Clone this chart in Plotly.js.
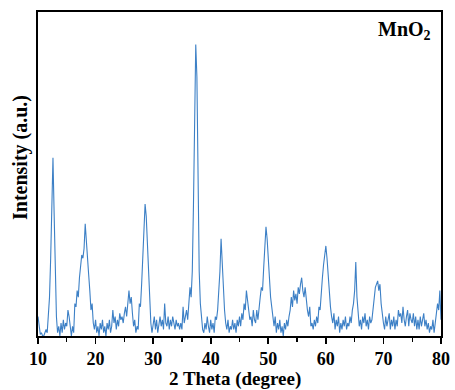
<!DOCTYPE html>
<html>
<head>
<meta charset="utf-8">
<script src="https://cdn.plot.ly/plotly-3.0.1.min.js"></script>
<style>html,body{margin:0;padding:0;background:#fff;}#chart{width:455px;height:390px;}</style>
</head>
<body>
<div id="chart"></div>
<script>
// 2 Theta from 10 to 80 in steps of 0.2 degree
const thetaStart = 10;
const thetaStep = 0.2;
// Intensity (a.u.), 5 values per degree
const intensity = [
  6, 2, 0.5, 1, 0,        // 10
  0, 1, 2, 1, 8,          // 11
  12, 24, 40, 55, 38,     // 12
  16, 6, 1, 3, 0,         // 13
  4, 1, 5, 2, 4,          // 14
  3, 8, 6, 2, 0,          // 15
  3, 1, 10, 9, 14,        // 16
  12, 18, 22, 25, 24,     // 17
  27, 34.6, 28, 25, 19,   // 18
  14, 8, 10, 4, 2,        // 19
  5, 1, 3, 0, 4,          // 20
  2, 5, 1, 3, 0,          // 21
  4, 2, 5, 1, 3,          // 22
  8, 4, 6, 2, 5,          // 23
  3, 7, 5, 6, 4,          // 24
  7, 9, 6, 10, 14,        // 25
  10, 12, 7, 3, 5,        // 26
  1, 3, 2, 10, 9,         // 27
  16, 25, 33, 40.7, 37,   // 28
  28, 18, 9, 4, 1,        // 29
  3, 6, 2, 5, 1,          // 30
  4, 6, 3, 5, 2,          // 31
  10, 4, 3, 6, 2,         // 32
  5, 3, 6, 4, 2,          // 33
  5, 3, 4, 2, 4,          // 34
  2, 9, 4, 6, 8,          // 35
  5, 9, 15, 12, 20,       // 36
  40, 70, 90, 80, 50,     // 37
  20, 10, 5, 2, 1,        // 38
  4, 2, 6, 3, 1,          // 39
  5, 2, 4, 1, 6,          // 40
  5, 8, 14, 20, 30,       // 41
  22, 14, 8, 4, 2,        // 42
  5, 1, 3, 2, 5,          // 43
  2, 4, 1, 5, 3,          // 44
  6, 3, 7, 5, 10,         // 45
  8, 14, 11, 9, 5,        // 46
  6, 3, 8, 5, 4,          // 47
  8, 5, 10, 12, 15,       // 48
  14, 21, 27, 33.7, 30,   // 49
  24, 16, 12, 9, 5,       // 50
  3, 6, 1, 4, 2,          // 51
  5, 1, 3, 0, 4,          // 52
  2, 5, 3, 6, 8,          // 53
  12, 9, 14, 11, 13,      // 54
  10, 15, 13, 16, 18,     // 55
  14, 12, 15, 10, 8,      // 56
  6, 9, 3, 4, 2,          // 57
  5, 3, 6, 4, 9,          // 58
  8, 14, 18, 22, 25,      // 59
  27.8, 24, 18, 14, 9,    // 60
  6, 4, 7, 2, 5,          // 61
  3, 6, 1, 4, 2,          // 62
  5, 3, 6, 2, 4,          // 63
  3, 6, 4, 8, 10,         // 64
  14, 22.8, 12, 6, 3,     // 65
  5, 2, 6, 4, 7,          // 66
  3, 5, 2, 6, 4,          // 67
  5, 8, 12, 15, 16,       // 68
  17, 14, 16, 10, 6,      // 69
  4, 2, 6, 3, 5,          // 70
  7, 2, 5, 3, 6,          // 71
  2, 5, 3, 8, 6,          // 72
  7, 4, 9, 5, 3,          // 73
  6, 8, 3, 7, 5,          // 74
  4, 7, 3, 6, 2,          // 75
  5, 2, 6, 3, 5,          // 76
  7, 3, 5, 2, 4,          // 77
  1, 3, 2, 5, 1,          // 78
  4, 6, 10, 8, 14,        // 79
  5                       // 80
];
const twoTheta = intensity.map((_, i) => +(thetaStart + i * thetaStep).toFixed(1));
const xTickVals = [10, 20, 30, 40, 50, 60, 70, 80];
const sampleLabel = 'MnO<sub>2</sub>';
const xTitle = '2 Theta (degree)';
const yTitle = 'Intensity (a.u.)';

const serif = 'Liberation Serif, Times New Roman, serif';

const trace = {
  x: twoTheta,
  y: intensity,
  type: 'scatter',
  mode: 'lines',
  line: {color: '#3d80c6', width: 1.1},
  hoverinfo: 'skip'
};

const layout = {
  width: 455,
  height: 390,
  margin: {l: 38, r: 14, t: 12, b: 54},
  paper_bgcolor: '#ffffff',
  plot_bgcolor: '#ffffff',
  showlegend: false,
  xaxis: {
    range: [10, 80],
    tickvals: xTickVals,
    ticks: 'outside',
    ticklen: 6,
    tickwidth: 1.6,
    tickcolor: '#000',
    minor: {dtick: 5, ticks: 'outside', ticklen: 4, tickwidth: 1.4, tickcolor: '#000', showgrid: false},
    showline: true,
    linecolor: '#000',
    linewidth: 1.8,
    mirror: true,
    showgrid: false,
    zeroline: false,
    tickfont: {family: serif, size: 18, color: '#000', weight: 'bold'}
  },
  yaxis: {
    range: [0, 100],
    showticklabels: false,
    ticks: '',
    showline: true,
    linecolor: '#000',
    linewidth: 1.8,
    mirror: true,
    showgrid: false,
    zeroline: false
  },
  annotations: [
    {
      text: xTitle, xref: 'paper', yref: 'paper', x: 0.49, y: -0.133,
      xanchor: 'center', yanchor: 'middle', showarrow: false,
      font: {family: serif, size: 19, color: '#000', weight: 'bold'}
    },
    {
      text: yTitle, xref: 'paper', yref: 'paper', x: -0.045, y: 0.552,
      xanchor: 'center', yanchor: 'middle', textangle: -90, showarrow: false,
      font: {family: serif, size: 20, color: '#000', weight: 'bold'}
    },
    {
      text: sampleLabel, xref: 'paper', yref: 'paper', x: 0.98, y: 0.944,
      xanchor: 'right', yanchor: 'middle', showarrow: false,
      font: {family: serif, size: 20, color: '#000', weight: 'bold'}
    }
  ]
};

Plotly.newPlot('chart', [trace], layout, {staticPlot: true, displayModeBar: false});
</script>
</body>
</html>
